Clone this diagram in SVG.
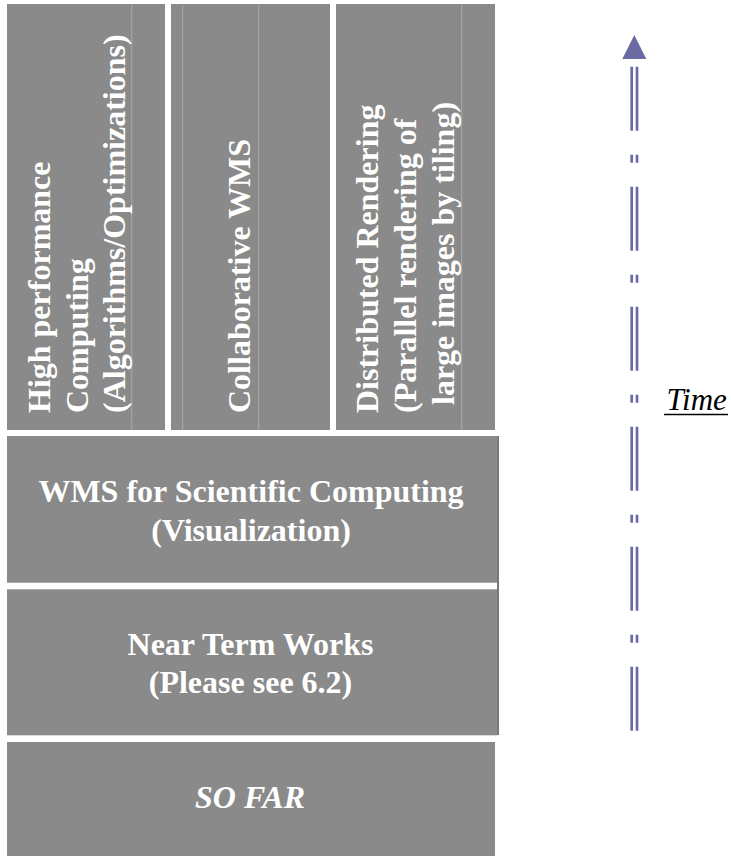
<svg xmlns="http://www.w3.org/2000/svg" width="731" height="856" viewBox="0 0 731 856">
<style>
.box{fill:#8a8a8a;}
.thin{stroke:#aaaaaa;stroke-width:1;}
.lbl{font-family:"Liberation Serif","Times New Roman",serif;font-weight:bold;font-size:32px;fill:#ffffff;}
.c{text-anchor:middle;}
.arr{stroke:#6b6ba3;stroke-width:2.7;stroke-dasharray:64 24 8 24;fill:none;}
</style>
<rect width="731" height="856" fill="#ffffff"/>
<g id="hpc">
<rect class="box" x="7" y="4" width="158" height="426"/>
<line class="thin" x1="131.7" y1="5" x2="131.7" y2="430"/>
<text class="lbl" transform="translate(50,413) rotate(-90)">High performance</text>
<text class="lbl" transform="translate(87.5,413) rotate(-90)">Computing</text>
<text class="lbl" transform="translate(125,413) rotate(-90)">(Algorithms/Optimizations)</text>
</g>
<g id="collab">
<rect class="box" x="171" y="4" width="159" height="426"/>
<line class="thin" x1="182.7" y1="5" x2="182.7" y2="430"/>
<line class="thin" x1="258.7" y1="5" x2="258.7" y2="430"/>
<text class="lbl" transform="translate(250,413) rotate(-90)">Collaborative WMS</text>
</g>
<g id="distributed">
<rect class="box" x="336" y="4" width="159" height="426"/>
<line class="thin" x1="461.7" y1="5" x2="461.7" y2="430"/>
<text class="lbl" transform="translate(378,413) rotate(-90)">Distributed Rendering</text>
<text class="lbl" transform="translate(416,413) rotate(-90)">(Parallel rendering of</text>
<text class="lbl" transform="translate(453.5,405) rotate(-90)">large images by tiling)</text>
</g>
<rect x="497" y="436" width="2" height="299" fill="#7a7a7a"/>
<g id="wms">
<rect class="box" x="7" y="436" width="490" height="146.7"/>
<text class="lbl c" x="251" y="502">WMS for Scientific Computing</text>
<text class="lbl c" x="251" y="540.5">(Visualization)</text>
</g>
<g id="nearterm">
<rect class="box" x="7" y="589.3" width="490" height="146"/>
<text class="lbl c" x="250.5" y="655.3">Near Term Works</text>
<text class="lbl c" x="250.5" y="692.7">(Please see 6.2)</text>
</g>
<g id="sofar">
<rect class="box" x="7" y="742" width="488" height="114"/>
<text class="lbl c" x="250" y="808" font-style="italic">SO FAR</text>
</g>
<g id="connectors">
<polygon points="634.3,35 622.3,59 646.3,59" fill="#6b6ba3"/>
<line class="arr" x1="631.7" y1="66.7" x2="631.7" y2="730.7"/>
<line class="arr" x1="637" y1="66.7" x2="637" y2="730.7"/>
</g>
<g id="time-label">
<text x="666.5" y="410" font-family="'Liberation Serif','Times New Roman',serif" font-style="italic" font-size="31" fill="#000000">Time</text>
<line x1="664" y1="414.5" x2="728" y2="414.5" stroke="#000000" stroke-width="1.6"/>
</g>
</svg>
